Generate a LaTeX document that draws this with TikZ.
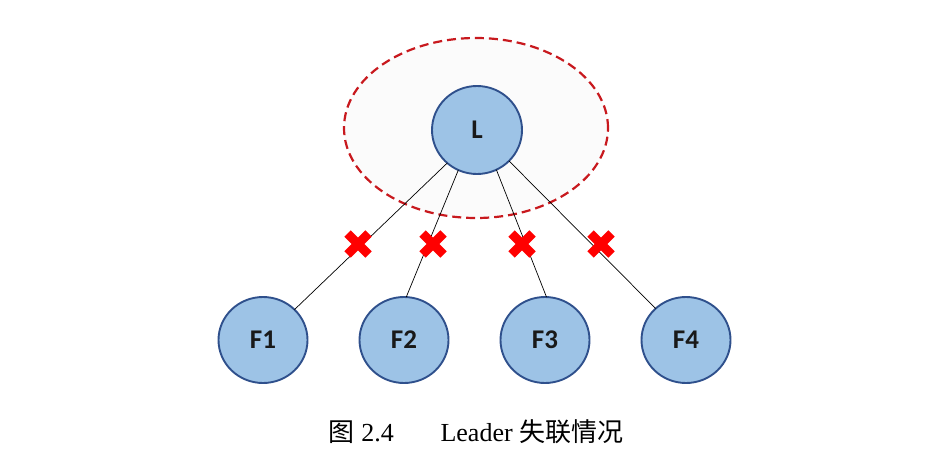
\documentclass[tikz,border=0pt]{standalone}
\usepackage{fontspec}
\setmainfont{Liberation Serif}
\newfontfamily\cjk{Noto Sans CJK SC}
\newfontfamily\labfont{Carlito}
\usetikzlibrary{shapes.geometric,shapes.misc}
\definecolor{nodefill}{RGB}{157,195,230}
\definecolor{nodeedge}{RGB}{47,80,140}
\definecolor{dashred}{RGB}{200,25,30}
\definecolor{bgfill}{RGB}{251,251,251}
\tikzset{
  member/.style={ellipse, draw=nodeedge, fill=nodefill, line width=1.9pt,
    minimum width=89pt, minimum height=86pt, inner sep=0pt, outer sep=0pt,
    font=\labfont\bfseries\fontsize{27}{27}\selectfont, text=black!90},
  zone/.style={ellipse, draw=dashred, fill=bgfill, line width=2.2pt,
    dash pattern=on 9pt off 5pt, minimum width=264pt, minimum height=180pt,
    inner sep=0pt},
  link/.style={draw=black, line width=0.7pt},
  broken/.style={cross out, draw=red, line width=9pt, minimum size=21pt,
    inner sep=0pt, outer sep=0pt}
}
\begin{document}
\begin{tikzpicture}[x=1pt,y=-1pt]
\useasboundingbox (0,0) rectangle (941,463);
\node[zone] (E) at (476,128) {};
\node[member, minimum width=90pt, minimum height=88pt] (L) at (477,130) {L};
\node[member] (F1) at (263,340) {F1};
\node[member] (F2) at (404,340) {F2};
\node[member] (F3) at (545,340) {F3};
\node[member] (F4) at (686,340) {F4};
\draw[link] (L.228) -- (F1.44);
\draw[link] (L.245) -- (F2.87);
\draw[link] (L.296) -- (F3.88);
\draw[link] (L.316) -- (F4.134);
\node[broken] (X1) at (358,244) {};
\node[broken] (X2) at (433,244) {};
\node[broken] (X3) at (522,244) {};
\node[broken] (X4) at (601,244) {};
\node[font=\fontsize{26}{26}\selectfont, inner sep=0pt] (cap) at (476,432)
  {{\cjk 图} 2.4\hspace{1.8em}Leader {\cjk 失联情况}};
\end{tikzpicture}
\end{document}
